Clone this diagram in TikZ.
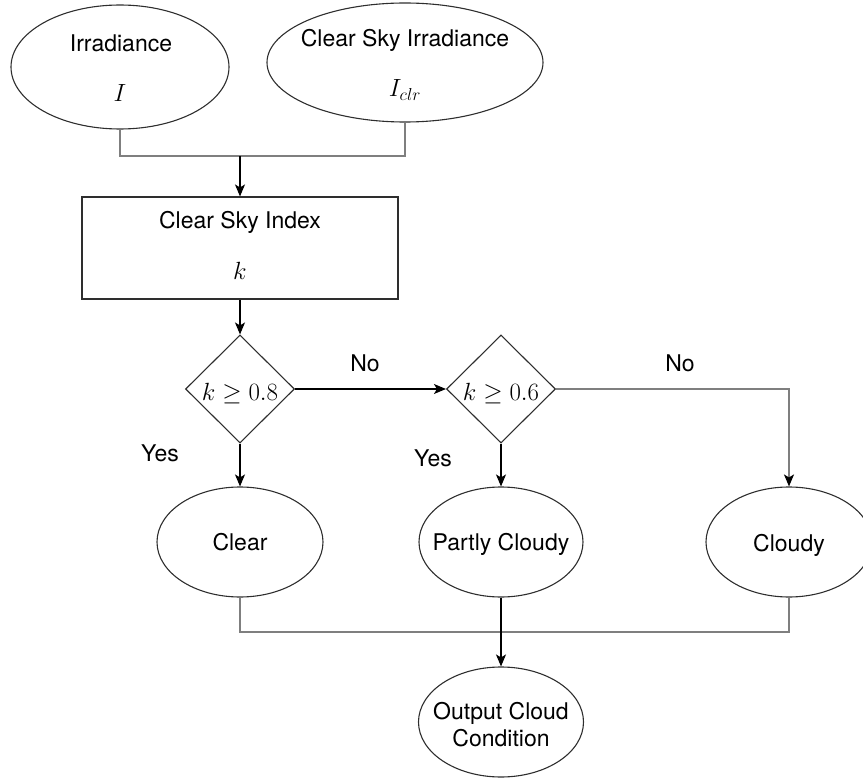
\documentclass[tikz,border=0pt]{standalone}
\usepackage{fontspec}
\setmainfont{TeX Gyre Heros}
\usetikzlibrary{shapes.geometric,arrows.meta}
\definecolor{linkgray}{HTML}{7F7F7F}
\definecolor{edgeink}{HTML}{2E2E2E}

\begin{document}
\begin{tikzpicture}[x=1pt,y=-1pt,
  shapeline/.style={draw=edgeink, line width=1.1pt},
  oval/.style={shapeline, ellipse, inner sep=0pt},
  box/.style={shapeline, rectangle, inner sep=0pt},
  decision/.style={shapeline, diamond, inner sep=0pt, minimum width=109pt, minimum height=108pt},
  txt/.style={inner sep=0pt, anchor=base, font=\fontsize{23}{27}\selectfont},
  mth/.style={inner sep=0pt, anchor=base, font=\fontsize{25}{30}\selectfont},
  tip/.style={-{Stealth[length=12pt,width=10pt,inset=3pt,color=black]}},
  link/.style={draw=linkgray, line width=1.6pt},
  arr/.style={draw=black, line width=1.2pt, tip},
]
\clip (0,0) rectangle (863,778);
\useasboundingbox (0,0) rectangle (863,778);

% inputs
\node[oval, minimum width=218pt, minimum height=124pt] (irr) at (120,67) {};
\node[oval, minimum width=276pt, minimum height=119pt] (csi) at (405,62.5) {};
\node[txt] (irr-a) at (121,51.7) {Irradiance};
\node[mth] (irr-b) at (120,101.7) {$I$};
\node[txt] (csi-a) at (405,46.7) {Clear Sky Irradiance};
\node[mth] (csi-b) at (405,96.7) {$I_{clr}$};

% clear sky index
\node[box, minimum width=316pt, minimum height=102pt] (idx) at (240,248) {};
\node[txt] (idx-a) at (240,228.3) {Clear Sky Index};
\node[mth] (idx-b) at (240,279.3) {$k$};

% decisions
\node[decision] (d1) at (240,389) {};
\node[decision] (d2) at (501,389) {};
\node[mth] (d1-t) at (240,400) {$k\geq 0.8$};
\node[mth] (d2-t) at (501,400) {$k\geq 0.6$};

% outcomes
\node[oval, minimum width=166pt, minimum height=110pt] (clear) at (240,542) {};
\node[oval, minimum width=164pt, minimum height=110pt] (partly) at (501,542) {};
\node[oval, minimum width=166pt, minimum height=110pt] (cloudy) at (789,542) {};
\node[txt] (clear-t) at (240,550.7) {Clear};
\node[txt] (partly-t) at (501,550.7) {Partly Cloudy};
\node[txt] (cloudy-t) at (789,551.2) {Cloudy};

% result
\node[oval, minimum width=165pt, minimum height=110pt] (out) at (501,722) {};
\node[txt] (out-a) at (501,719.3) {Output Cloud};
\node[txt] (out-b) at (501,746.7) {Condition};

% branch labels
\node[txt] (no1) at (365,371.7) {No};
\node[txt] (no2) at (680,371.7) {No};
\node[txt] (yes1) at (160,461.7) {Yes};
\node[txt] (yes2) at (433,466.7) {Yes};

% connectors
\coordinate (top-join) at (240,156);
\coordinate (bot-join) at (501,632);
\draw[link] (irr.south) -- (irr.south |- top-join) -- (csi.south |- top-join) -- (csi.south);
\draw[arr] (top-join) -- (idx.north);
\draw[arr] (idx.south) -- (d1.north);
\draw[arr] (d1.east) -- (d2.west);
\draw[link, tip] (d2.east) -| (cloudy.north);
\draw[arr] (d1.south) -- (clear.north);
\draw[arr] (d2.south) -- (partly.north);
\draw[link] (clear.south) -- (clear.south |- bot-join) -- (cloudy.south |- bot-join) -- (cloudy.south);
\draw[arr] (partly.south) -- (out.north);
\end{tikzpicture}
\end{document}
